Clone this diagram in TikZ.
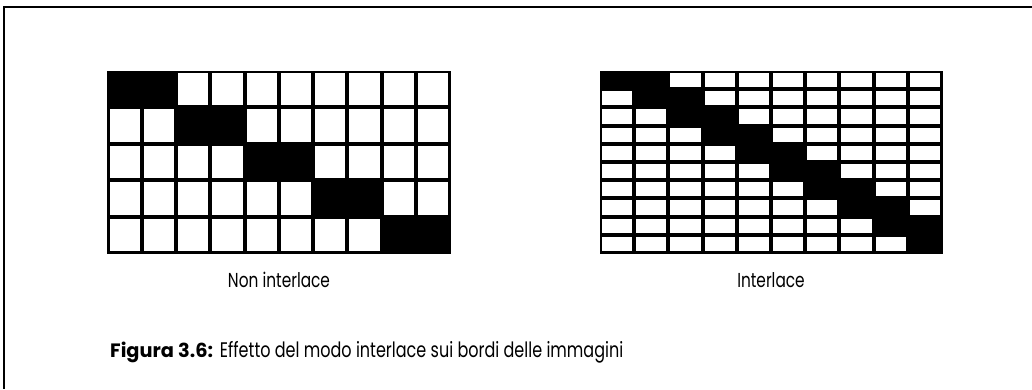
\documentclass[tikz,border=0pt]{standalone}
\usepackage{fontspec}
\setmainfont{Poppins}
\newfontfamily\narrowfont{Poppins}[FakeStretch=0.76]
\usepackage{xcolor}
\definecolor{cellOn}{HTML}{000000}
\definecolor{cellOff}{HTML}{FFFFFF}

\begin{document}
\begin{tikzpicture}
  \useasboundingbox (0cm,0cm) rectangle (20.64cm,-7.78cm);
  \draw[line width=0.04cm] (20.64cm,-0.14cm) -- (0.08cm,-0.14cm) -- (0.08cm,-7.78cm);
  % non interlace
  \filldraw[fill=cellOn, draw=none] (2.14cm,-1.41cm) rectangle (9.01cm,-5.07cm);
  \foreach \r in {1,...,5}{
    \foreach \c in {1,...,10}{
      \pgfmathtruncatemacro{\off}{or(\c-2*\r<-1,\c-2*\r>0)}
      \ifnum\off=1
        \filldraw[fill=cellOff, draw=none] ({2.15+(\c-1)*0.685+0.04},{-1.42-(\r-1)*0.728-0.04}) rectangle ({2.15+\c*0.685-0.04},{-1.42-\r*0.728+0.04});
      \fi
    }
  }
  \node (labNon) at (5.58cm,-5.6cm) {\narrowfont\fontsize{11.5pt}{13pt}\selectfont Non interlace};
  % interlace
  \filldraw[fill=cellOn, draw=none] (11.99cm,-1.41cm) rectangle (18.85cm,-5.07cm);
  \foreach \r in {1,...,10}{
    \foreach \c in {1,...,10}{
      \pgfmathtruncatemacro{\off}{or(\c-\r<0,\c-\r>1)}
      \ifnum\off=1
        \filldraw[fill=cellOff, draw=none] ({12.0+(\c-1)*0.684+0.04},{-1.42-(\r-1)*0.364-0.04}) rectangle ({12.0+\c*0.684-0.04},{-1.42-\r*0.364+0.04});
      \fi
    }
  }
  \node (labInt) at (15.42cm,-5.6cm) {\narrowfont\fontsize{11.5pt}{13pt}\selectfont Interlace};
  \node[anchor=west] (caption) at (2.08cm,-7.04cm) {\fontsize{11pt}{13pt}\selectfont\textbf{Figura 3.6:} {\narrowfont\fontsize{12pt}{14pt}\selectfont Effetto del modo interlace sui bordi delle immagini}};
\end{tikzpicture}
\end{document}
